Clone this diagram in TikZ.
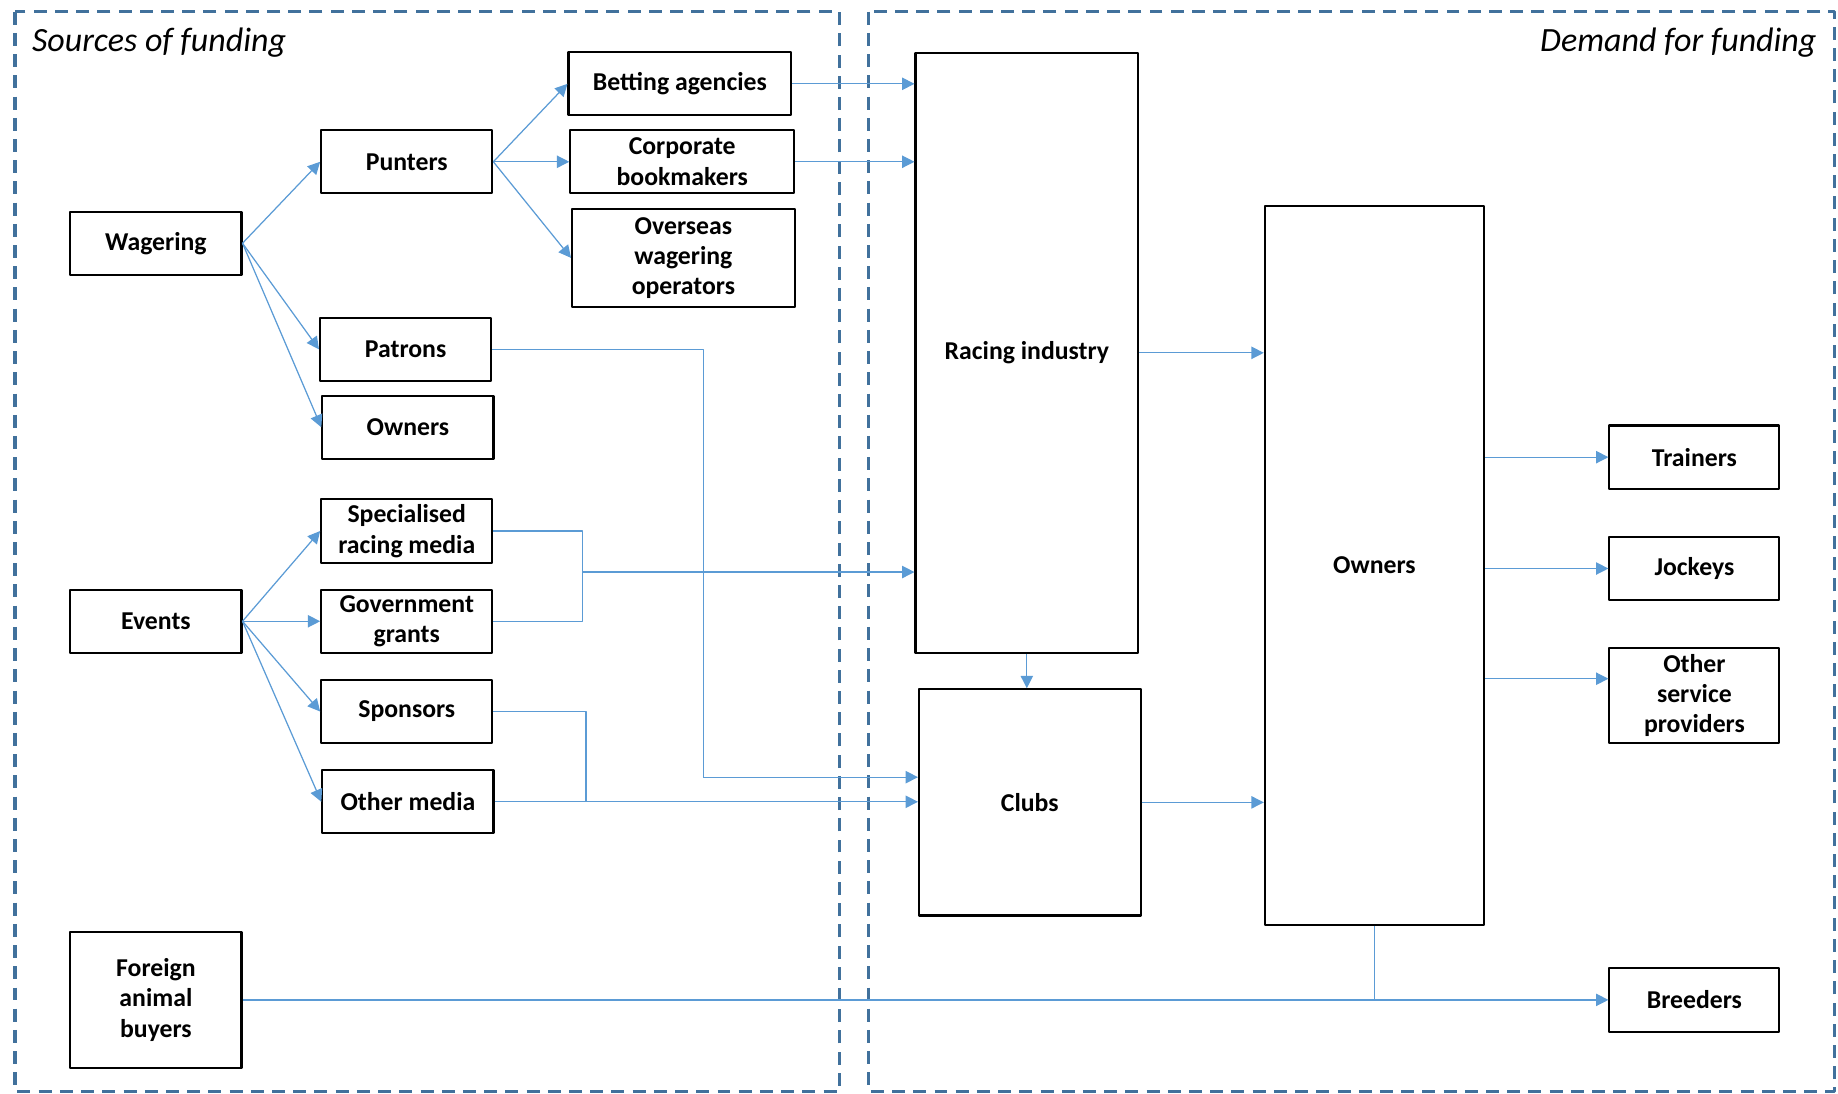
\documentclass[tikz,border=0pt]{standalone}
\usepackage{fontspec}
\setmainfont{Carlito}
\usetikzlibrary{arrows.meta,positioning}
\definecolor{frameblue}{HTML}{41719C}
\definecolor{flowblue}{HTML}{5B9BD5}
\tikzset{
  box/.style={draw, line width=1pt, fill=white, align=center, inner sep=0pt,
    font=\fontsize{12.5}{14.7}\selectfont\bfseries},
  sz/.style 2 args={minimum width=#1*0.02cm, minimum height=#2*0.02cm},
  flow/.style={draw=flowblue, line width=0.6pt, -{Triangle[length=6pt,width=6pt]}},
  link/.style={draw=flowblue, line width=0.6pt},
  frame/.style={draw=frameblue, line width=1.7pt, dash pattern=on 6.3pt off 4pt},
  title/.style={font=\fontsize{16.5}{19}\selectfont\itshape, inner sep=0pt}
}

\begin{document}
\begin{tikzpicture}[x=0.02cm,y=-0.02cm,line join=round]
\useasboundingbox (0,0) rectangle (1568,933);
\draw[frame] (13,10) rectangle (716,931);
\draw[frame] (741,10) rectangle (1565,931);
\node[title, anchor=west] (src) at (27,36) {Sources of funding};
\node[title, anchor=east] (dem) at (1550,36) {Demand for funding};

\node[box, sz={146}{54}] (wager) at (133,207.5) {Wagering};
\node[box, sz={146}{54}] (punt) at (347,138) {Punters};
\node[box, sz={146}{54}] (patr) at (346,298) {Patrons};
\node[box, sz={146}{54}] (ownl) at (348,364.5) {Owners};
\node[box, sz={190}{54}] (bet) at (580,71.5) {Betting agencies};
\node[box, sz={191}{54}] (corp) at (582,138) {Corporate\\bookmakers};
\node[box, sz={190}{84}] (overs) at (583,220) {Overseas\\wagering\\operators};
\node[box, sz={146}{54}] (event) at (133,530) {Events};
\node[box, sz={146}{54}] (spec) at (347,453) {Specialised\\racing media};
\node[box, sz={146}{54}] (gov) at (347,530) {Government\\grants};
\node[box, sz={146}{54}] (spon) at (347,607) {Sponsors};
\node[box, sz={146}{54}] (omed) at (348,684) {Other media};
\node[box, sz={146}{116}] (fab) at (133,853) {Foreign\\animal\\buyers};
\node[box, sz={190}{512}] (ri) at (876,301) {Racing industry};
\node[box, sz={189}{193}] (clubs) at (878.5,684.5) {Clubs};
\node[box, sz={187}{613}] (own) at (1172.5,482.5) {Owners};
\node[box, sz={145}{54}] (train) at (1445.5,390) {Trainers};
\node[box, sz={145}{54}] (jock) at (1445.5,485) {Jockeys};
\node[box, sz={145}{81}] (osp) at (1445.5,593.5) {Other\\service\\providers};
\node[box, sz={145}{54}] (breed) at (1445.5,853) {Breeders};

\draw[flow] (wager.east) -- (punt.west);
\draw[flow] (wager.east) -- (patr.west);
\draw[flow] (wager.east) -- (ownl.west);
\draw[flow] (punt.east) -- (bet.west);
\draw[flow] (punt.east) -- (corp.west);
\draw[flow] (punt.east) -- (overs.west);
\draw[flow] (bet.east) -- (bet.east -| ri.west);
\draw[flow] (corp.east) -- (corp.east -| ri.west);
\coordinate (jp) at (600,663);
\draw[link] (patr.east) -| (jp);
\draw[flow] (jp) -- (jp -| clubs.west);

\draw[flow] (event.east) -- (spec.west);
\draw[flow] (event.east) -- (gov.west);
\draw[flow] (event.east) -- (spon.west);
\draw[flow] (event.east) -- (omed.west);
\coordinate (jm) at (497,488);
\draw[link] (spec.east) -| (jm);
\draw[link] (gov.east) -| (jm);
\draw[flow] (jm) -- (jm -| ri.west);
\coordinate (js) at (500,684);
\draw[link] (spon.east) -| (js);
\draw[flow] (omed.east) -- (omed.east -| clubs.west);

\draw[flow] (ri.south) -- (ri.south |- clubs.north);
\draw[flow] (ri.east) -- (ri.east -| own.west);
\draw[flow] (clubs.east) -- (clubs.east -| own.west);
\draw[flow] (train.west -| own.east) -- (train.west);
\draw[flow] (jock.west -| own.east) -- (jock.west);
\coordinate (ospin) at ([yshift=0.29cm]osp.west);
\draw[flow] (ospin -| own.east) -- (ospin);
\draw[flow] (fab.east) -- (breed.west);
\draw[link] (own.south) -- (own.south |- breed.west);
\end{tikzpicture}
\end{document}
